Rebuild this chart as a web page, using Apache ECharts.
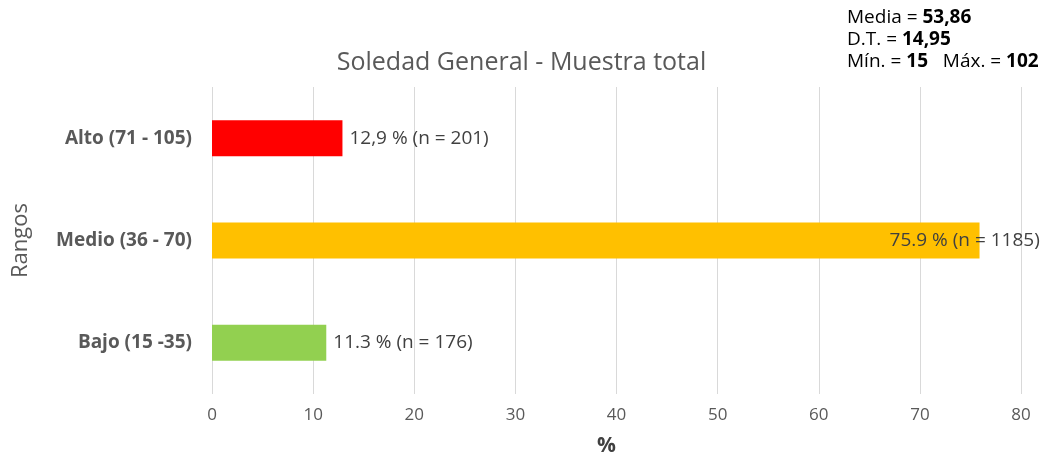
<!DOCTYPE html>
<html><head><meta charset="utf-8">
<script src="https://cdn.jsdelivr.net/npm/echarts@6/dist/echarts.min.js"></script>
<style>html,body{margin:0;padding:0;background:#fff}#c{width:1043px;height:459px}</style>
</head><body><div id="c"></div>
<script>
const categories = ['Bajo (15 -35)', 'Medio (36 - 70)', 'Alto (71 - 105)'];
const values = [11.3, 75.9, 12.9];
const counts = [176, 1185, 201];
const valueTexts = ['11.3', '75.9', '12,9'];
const colors = ['#92d050', '#ffc000', '#ff0000'];
const xTicks = [0, 10, 20, 30, 40, 50, 60, 70, 80];

const chart = echarts.init(document.getElementById('c'));
const font = 'Open Sans';
chart.setOption({
  animation: false,
  textStyle: { fontFamily: font },
  title: {
    text: 'Soledad General - Muestra total',
    left: 'center', top: 45,
    textStyle: { fontFamily: font, fontSize: 25, fontWeight: 'normal', color: '#595959' }
  },
  graphic: [{
    type: 'text', left: 847, top: 7,
    style: {
      text: 'Media = {b|53,86}\nD.T. = {b|14,95}\nMín. = {b|15}   Máx. = {b|102}',
      font: '19px "Open Sans"', fill: '#000', lineHeight: 22,
      rich: {
        b: { fontWeight: 'bold', fontSize: 19, fontFamily: font, fill: '#000', lineHeight: 22 }
      }
    }
  }],
  grid: { left: 212, right: 22, top: 87, bottom: 65, outerBoundsMode: 'none', containLabel: false },
  xAxis: {
    type: 'value', min: 0, max: 80, interval: 10,
    name: '%', nameLocation: 'middle', nameGap: 42,
    nameTextStyle: { fontFamily: font, fontSize: 21, fontWeight: 'bold', color: '#404040', padding: [0, 20, 0, 0] },
    axisLine: { show: false }, axisTick: { show: false },
    axisLabel: { fontFamily: font, fontSize: 17, color: '#595959', margin: 13,
      formatter: v => xTicks.includes(v) ? String(v) : '' },
    splitLine: { lineStyle: { color: '#d9d9d9', width: 1 } }
  },
  yAxis: {
    type: 'category', data: categories,
    name: 'Rangos', nameLocation: 'middle', nameGap: 180, nameRotate: 90,
    nameTextStyle: { fontFamily: font, fontSize: 22, color: '#595959' },
    axisLine: { show: false }, axisTick: { show: false },
    axisLabel: { fontFamily: font, fontSize: 19, fontWeight: 'bold', color: '#595959', margin: 20 }
  },
  series: [{
    type: 'bar', barWidth: 36,
    data: values.map((v, i) => ({
      value: v,
      itemStyle: { color: colors[i] },
      label: i === 1 ? { position: 'right', offset: [-97, 0] } : {}
    })),
    label: {
      show: true, position: 'right', distance: 7,
      fontFamily: font, fontSize: 19, color: '#404040',
      formatter: p => valueTexts[p.dataIndex] + ' % (n = ' + counts[p.dataIndex] + ')'
    }
  }]
});
</script></body></html>
